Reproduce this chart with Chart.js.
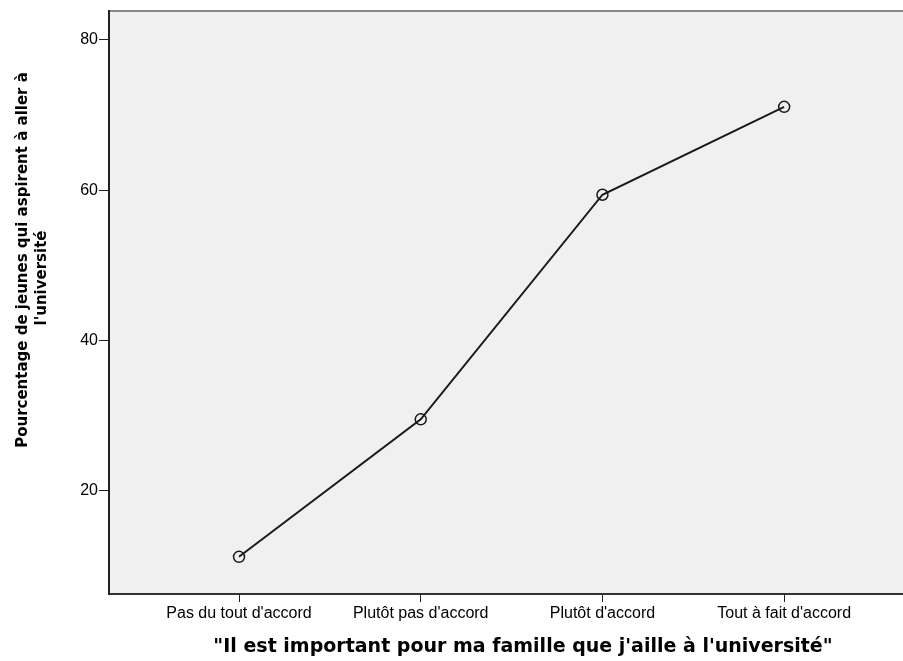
<!DOCTYPE html>
<html>
<head>
<meta charset="utf-8">
<script src="https://cdn.jsdelivr.net/npm/chart.js@4.4.1/dist/chart.umd.min.js"></script>
<style>
  html, body { margin: 0; padding: 0; background: #fff; }
  canvas { display: block; }
</style>
</head>
<body>
<canvas id="chart" width="903" height="661"></canvas>
<script>
const categories = ["Pas du tout d'accord", "Plutôt pas d'accord", "Plutôt d'accord", "Tout à fait d'accord"];
const percentages = [11.2, 29.5, 59.4, 71.1];
const yTicks = [20, 40, 60, 80];

const yTitleLines = ["Pourcentage de jeunes qui aspirent à aller à", "l'université"];
const xTitle = "\"Il est important pour ma famille que j'aille à l'université\"";

const panelBackground = {
  id: 'panelBackground',
  beforeDraw(chart) {
    const { ctx, chartArea: a } = chart;
    ctx.save();
    ctx.fillStyle = '#f0f0f0';
    ctx.fillRect(a.left, a.top, a.right - a.left, a.bottom - a.top);
    ctx.strokeStyle = '#888';
    ctx.lineWidth = 2;
    ctx.beginPath();
    ctx.moveTo(a.left, a.top);
    ctx.lineTo(a.right, a.top);
    ctx.stroke();
    ctx.restore();
  }
};

const axisTitles = {
  id: 'axisTitles',
  afterDraw(chart) {
    const ctx = chart.ctx;
    ctx.save();
    ctx.fillStyle = '#000';
    ctx.textAlign = 'center';
    ctx.textBaseline = 'middle';
    ctx.font = 'bold 19px "DejaVu Sans"';
    ctx.fillText(xTitle, 523, 647);

    ctx.font = 'bold 15px "DejaVu Sans"';
    ctx.translate(23, 260);
    ctx.rotate(-Math.PI / 2);
    ctx.fillText(yTitleLines[0], 0, 0);
    ctx.fillText(yTitleLines[1], -18, 19);
    ctx.restore();
  }
};

const ctx = document.getElementById('chart').getContext('2d');
new Chart(ctx, {
  type: 'line',
  data: {
    datasets: [{
      data: percentages.map((v, i) => ({ x: i, y: v })),
      borderColor: '#1a1a1a',
      borderWidth: 2,
      pointRadius: 5.5,
      pointBorderWidth: 1.5,
      pointBorderColor: '#1a1a1a',
      pointBackgroundColor: 'rgba(0,0,0,0)',
      tension: 0
    }]
  },
  options: {
    responsive: false,
    animation: false,
    layout: { autoPadding: false, padding: { top: 11, left: 0, right: 0, bottom: 0 } },
    plugins: {
      legend: { display: false },
      tooltip: { enabled: false }
    },
    scales: {
      x: {
        type: 'linear',
        min: -0.7155,
        max: 3.654,
        afterBuildTicks: s => { s.ticks = categories.map((c, i) => ({ value: i })); },
        afterFit: s => { s.height = 67; },
        ticks: {
          callback: v => categories[v],
          color: '#000',
          font: { family: 'Liberation Sans', size: 16 },
          padding: 2,
          maxRotation: 0,
          autoSkip: false
        },
        grid: { drawOnChartArea: false, drawTicks: true, tickLength: 8, color: '#222', lineWidth: 1 },
        border: { display: true, color: '#333', width: 2 }
      },
      y: {
        min: 6.25,
        max: 83.86,
        afterBuildTicks: s => { s.ticks = yTicks.map(v => ({ value: v })); },
        afterFit: s => { s.width = 109; },
        ticks: {
          color: '#000',
          font: { family: 'Liberation Sans', size: 16 },
          padding: 1
        },
        grid: { drawOnChartArea: false, drawTicks: true, tickLength: 10, color: '#222', lineWidth: 1 },
        border: { display: true, color: '#222', width: 2 }
      }
    }
  },
  plugins: [panelBackground, axisTitles]
});
</script>
</body>
</html>
